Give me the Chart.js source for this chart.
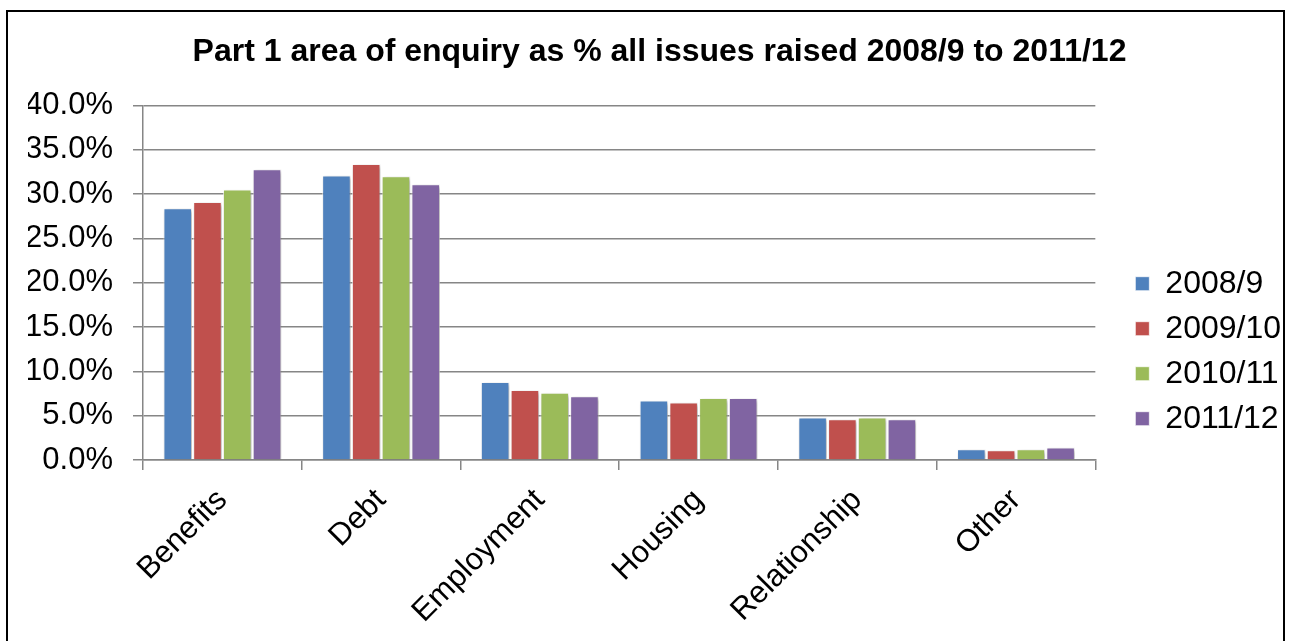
<!DOCTYPE html>
<html>
<head>
<meta charset="utf-8">
<script src="https://cdn.jsdelivr.net/npm/chart.js@4/dist/chart.umd.min.js"></script>
<style>
    body { margin: 0; background: #fff; }
    #wrap { width: 1291px; height: 641px; }
</style>
</head>
<body>
<div id="wrap"><canvas id="CHART" width="1291" height="641"></canvas></div>
<script>
"use strict"

const categories = ["Benefits", "Debt", "Employment", "Housing", "Relationship", "Other"]
const years = ["2008/9", "2009/10", "2010/11", "2011/12"]
const share_2008 = [28.4, 32.1, 8.8, 6.7, 4.8, 1.2]
const share_2009 = [29.1, 33.4, 7.9, 6.5, 4.6, 1.1]
const share_2010 = [30.5, 32.0, 7.6, 7.0, 4.8, 1.2]
const share_2011 = [32.8, 31.1, 7.2, 7.0, 4.6, 1.4]
const colors = ["#4F81BD", "#C0504D", "#9BBB59", "#8064A2"]

const axis_grey = "#868686"
Chart.defaults.font.family = "'Liberation Sans', Arial, sans-serif"
Chart.defaults.color = "#000"

// black frame round the whole chart
const frame = {
    id: "frame",
    beforeDraw(chart) {
        const ctx = chart.ctx
        ctx.save()
        ctx.fillStyle = "#fff"
        ctx.fillRect(0, 0, chart.width, chart.height)
        ctx.strokeStyle = "#000"
        ctx.lineWidth = 2
        ctx.strokeRect(7, 11, 1277, 700)
        ctx.restore()
    }
}

// soft drop shadow under the bars
const barShadow = {
    id: "barShadow",
    beforeDatasetsDraw(chart) {
        const ctx = chart.ctx
        ctx.save()
        ctx.shadowColor = "rgba(0,0,0,0.3)"
        ctx.shadowBlur = 4
        ctx.shadowOffsetX = 2
        ctx.shadowOffsetY = 2
    },
    afterDatasetsDraw(chart) {
        chart.ctx.restore()
    }
}

const series = [share_2008, share_2009, share_2010, share_2011]
const datasets = series.map((values, i) => ({
    label: years[i],
    data: values,
    backgroundColor: colors[i],
    borderColor: "rgba(255,255,255,0.7)",
    borderWidth: 1,
    barPercentage: 0.96,
    categoryPercentage: 0.75,
}))

new Chart(CHART, {
    type: "bar",
    data: { labels: categories, datasets: datasets },
    plugins: [frame, barShadow],
    options: {
        animation: false,
        responsive: false,
        maintainAspectRatio: false,
        layout: { padding: { left: 28, right: 0, top: 11, bottom: 0 } },
        plugins: {
            title: {
                display: true,
                text: "Part 1 area of enquiry as % all issues raised 2008/9 to 2011/12",
                font: { size: 32, weight: "bold" },
                padding: { top: 22, bottom: 34 },
            },
            legend: {
                position: "right",
                title: { display: true, text: " ", font: { size: 12 }, padding: { top: 18, bottom: 18 } },
                labels: {
                    font: { size: 32 },
                    boxWidth: 14,
                    boxHeight: 14,
                    padding: 13,
                },
            },
            tooltip: { enabled: false },
        },
        scales: {
            x: {
                grid: {
                    display: true,
                    drawOnChartArea: false,
                    drawTicks: true,
                    tickLength: 10,
                    offset: true,
                    color: axis_grey,
                    lineWidth: 1.5,
                },
                border: { color: axis_grey, width: 1.5 },
                ticks: {
                    font: { size: 31 },
                    minRotation: 45,
                    maxRotation: 45,
                    autoSkip: false,
                    padding: 12,
                },
                afterFit(scale) { scale.height = 181 },
            },
            y: {
                min: 0,
                max: 40,
                grid: { color: axis_grey, lineWidth: 1.5, tickLength: 10 },
                border: { color: axis_grey, width: 1.5 },
                ticks: {
                    stepSize: 5,
                    font: { size: 31 },
                    padding: 20,
                    callback: v => v.toFixed(1) + "%",
                },
                afterFit(scale) { scale.width = 115 },
            },
            // empty axis that only keeps the legend away from the bars
            gap: {
                position: "right",
                grid: { display: false },
                border: { display: false },
                ticks: { display: false },
                afterFit(scale) { scale.width = 27 },
            },
        },
    },
})
</script>
</body>
</html>
